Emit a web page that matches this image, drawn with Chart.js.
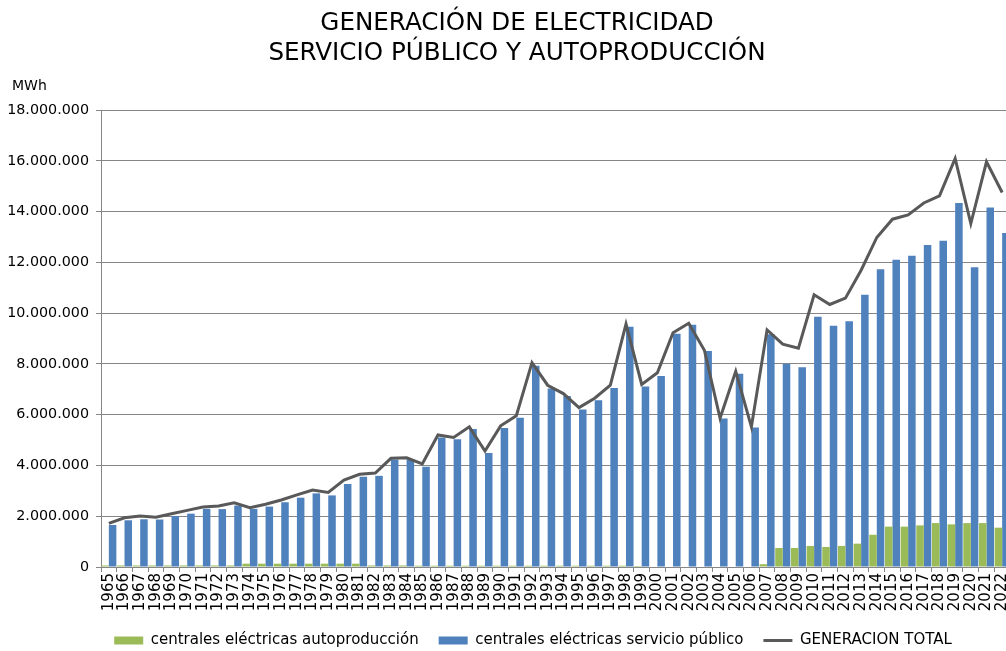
<!DOCTYPE html>
<html>
<head>
<meta charset="utf-8">
<script src="https://cdn.jsdelivr.net/npm/chart.js@4"></script>
<style>
  html, body { margin: 0; padding: 0; background: #fff; overflow: hidden; }
</style>
</head>
<body>
<canvas id="chart" width="1034" height="651"></canvas>
<script>
const years = ['1965','1966','1967','1968','1969','1970','1971','1972','1973','1974',
  '1975','1976','1977','1978','1979','1980','1981','1982','1983','1984',
  '1985','1986','1987','1988','1989','1990','1991','1992','1993','1994',
  '1995','1996','1997','1998','1999','2000','2001','2002','2003','2004',
  '2005','2006','2007','2008','2009','2010','2011','2012','2013','2014',
  '2015','2016','2017','2018','2019','2020','2021','2022'];

// MWh
const autoproduccion = [60000, 60000, 60000, 60000, 60000, 60000, 60000, 60000, 60000, 130000,
  130000, 130000, 130000, 130000, 130000, 130000, 130000, 60000, 60000, 60000,
  50000, 50000, 50000, 50000, 50000, 50000, 50000, 50000, 50000, 50000,
  50000, 50000, 50000, 50000, 40000, 0, 0, 0, 0, 0,
  0, 0, 110000, 750000, 750000, 830000, 790000, 830000, 920000, 1270000,
  1590000, 1590000, 1640000, 1730000, 1680000, 1730000, 1730000, 1550000];

const servicioPublico = [1655000, 1840000, 1880000, 1870000, 2010000, 2100000, 2290000, 2280000, 2420000, 2290000,
  2380000, 2550000, 2730000, 2900000, 2820000, 3270000, 3550000, 3590000, 4230000, 4240000,
  3950000, 5100000, 5030000, 5440000, 4490000, 5480000, 5880000, 7930000, 7030000, 6740000,
  6200000, 6570000, 7050000, 9460000, 7110000, 7520000, 9190000, 9540000, 8510000, 5850000,
  7610000, 5490000, 9170000, 8010000, 7870000, 9860000, 9500000, 9680000, 10720000, 11730000,
  12100000, 12260000, 12680000, 12850000, 14340000, 11810000, 14160000, 13160000];

const generacionTotal = [1720000, 1940000, 2010000, 1960000, 2100000, 2230000, 2360000, 2400000, 2530000, 2340000,
  2470000, 2640000, 2840000, 3030000, 2940000, 3420000, 3650000, 3700000, 4280000, 4300000,
  4060000, 5200000, 5100000, 5520000, 4570000, 5560000, 5960000, 8050000, 7160000, 6830000,
  6280000, 6650000, 7160000, 9570000, 7190000, 7650000, 9230000, 9600000, 8540000, 5860000,
  7710000, 5520000, 9340000, 8780000, 8620000, 10720000, 10340000, 10590000, 11690000, 12980000,
  13700000, 13870000, 14340000, 14620000, 16090000, 13530000, 15960000, 14750000];

const font = 'DejaVu Sans';
const axisGray = '#868686';

const fmt = v => String(v).replace(/\B(?=(\d{3})+(?!\d))/g, '.');

const unitLabel = {
  id: 'unitLabel',
  afterLayout(chart) {
    // legend sits a bit right of the canvas centre in the original
    const lg = chart.legend;
    lg.left += 16;
    lg.right += 16;
    lg.top += 2;
    lg.bottom += 2;
  },
  afterDraw(chart) {
    const ctx = chart.ctx;
    ctx.save();
    ctx.font = '14px "' + font + '"';
    ctx.fillStyle = '#000';
    ctx.textBaseline = 'middle';
    ctx.fillText('MWh', 12, 86);
    ctx.restore();
  }
};

new Chart(document.getElementById('chart'), {
  type: 'bar',
  data: {
    labels: years,
    datasets: [
      {
        label: 'centrales eléctricas autoproducción',
        data: autoproduccion,
        backgroundColor: '#9BBB59',
        categoryPercentage: 0.96,
        barPercentage: 1.0,
        order: 1
      },
      {
        label: 'centrales eléctricas servicio público',
        data: servicioPublico,
        backgroundColor: '#4F81BD',
        categoryPercentage: 0.96,
        barPercentage: 1.0,
        order: 1
      },
      {
        type: 'line',
        label: 'GENERACION TOTAL',
        data: generacionTotal,
        borderColor: '#595959',
        backgroundColor: '#595959',
        borderWidth: 3,
        pointRadius: 0,
        tension: 0,
        fill: false,
        order: 0
      }
    ]
  },
  options: {
    responsive: false,
    animation: false,
    layout: { padding: { left: 0, right: 0, top: 0, bottom: -5 } },
    plugins: {
      tooltip: { enabled: false },
      title: {
        display: true,
        text: ['GENERACIÓN DE ELECTRICIDAD', 'SERVICIO PÚBLICO Y AUTOPRODUCCIÓN'],
        color: '#000',
        font: { family: font, size: 24.6, weight: 'normal', lineHeight: 1.22 },
        padding: { top: 9, bottom: 41 }
      },
      legend: {
        position: 'bottom',
        labels: {
          color: '#000',
          font: { family: font, size: 15 },
          usePointStyle: true,
          pointStyleWidth: 29,
          boxHeight: 8,
          padding: 20,
          generateLabels(chart) {
            const items = Chart.defaults.plugins.legend.labels.generateLabels(chart);
            items.forEach(it => {
              it.pointStyle = it.datasetIndex === 2 ? 'line' : 'rect';
            });
            return items.sort((a, b) => a.datasetIndex - b.datasetIndex);
          }
        }
      }
    },
    scales: {
      x: {
        grid: { display: true, drawOnChartArea: false, tickLength: 5, color: axisGray, offset: true },
        border: { color: axisGray },
        ticks: {
          color: '#000',
          font: { family: font, size: 15 },
          minRotation: 90,
          maxRotation: 90,
          autoSkip: false,
          padding: 1
        },
        afterFit(scale) { scale.height = 44; }
      },
      y: {
        min: 0,
        max: 18000000,
        grid: { color: axisGray, tickLength: 5 },
        border: { color: axisGray },
        ticks: {
          stepSize: 2000000,
          color: '#000',
          font: { family: font, size: 14.3 },
          padding: 7,
          callback: v => fmt(v)
        },
        afterFit(scale) { scale.width = 101; }
      },
      y2: {
        position: 'right',
        display: true,
        grid: { display: false },
        border: { display: false },
        ticks: { display: false },
        afterFit(scale) { scale.width = 24; }
      }
    }
  },
  plugins: [unitLabel]
});
</script>
</body>
</html>
